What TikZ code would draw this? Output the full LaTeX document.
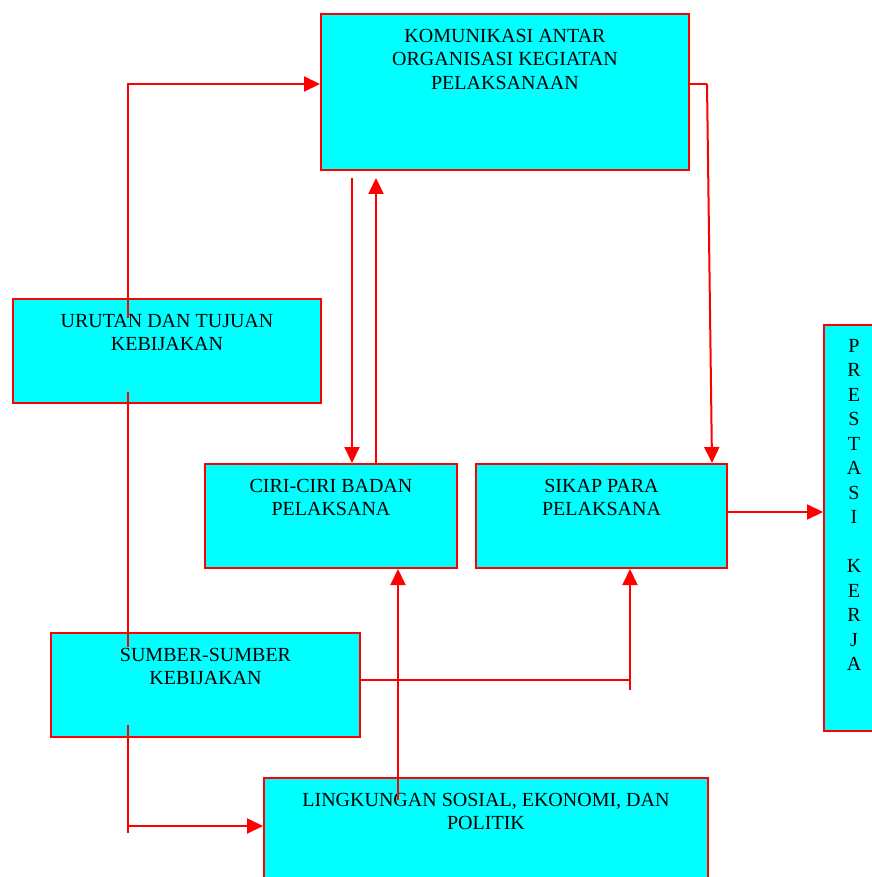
\documentclass[tikz,border=0pt]{standalone}
\usepackage{fontspec}
\setmainfont{Liberation Serif}
\usetikzlibrary{positioning,arrows.meta}

\definecolor{isi}{RGB}{0,255,255}
\definecolor{merah}{RGB}{255,0,0}

\begin{document}
\begin{tikzpicture}[x=1pt, y=-1pt,
	kotak/.style={draw=merah, fill=isi, line width=2pt, anchor=north west, inner sep=0pt},
	teks/.style={inner sep=0pt, align=center, font=\fontsize{20}{23.5}\selectfont},
	garis/.style={merah, line width=2pt},
	panah/.style={garis, -{Triangle[length=16pt,width=15pt]}}]

\useasboundingbox (0,0) rectangle (871,877);

% kotak-kotak
\node[kotak, minimum width=368pt, minimum height=156pt] (komunikasi) at (320,13) {};
\node[kotak, minimum width=308pt, minimum height=104pt] (urutan) at (12,298) {};
\node[kotak, minimum width=252pt, minimum height=104pt] (ciri) at (204,463) {};
\node[kotak, minimum width=251pt, minimum height=104pt] (sikap) at (475,463) {};
\node[kotak, minimum width=60pt, minimum height=406pt] (prestasi) at (823,324) {};
\node[kotak, minimum width=309pt, minimum height=104pt] (sumber) at (50,632) {};
\node[kotak, minimum width=444pt, minimum height=112pt] (lingkungan) at (263,777) {};

\node[teks, below=16pt of komunikasi.north] {KOMUNIKASI ANTAR\\ORGANISASI KEGIATAN\\PELAKSANAAN};
\node[teks, below=16pt of urutan.north] {URUTAN DAN TUJUAN\\KEBIJAKAN};
\node[teks, below=16pt of ciri.north] {CIRI-CIRI BADAN\\PELAKSANA};
\node[teks, below=16pt of sikap.north] {SIKAP PARA\\PELAKSANA};
\node[teks, below=16pt of sumber.north] {SUMBER-SUMBER\\KEBIJAKAN};
\node[teks, below=16pt of lingkungan.north] {LINGKUNGAN SOSIAL, EKONOMI, DAN\\POLITIK};
\node[teks, font=\fontsize{20}{24.5}\selectfont, below=15pt of prestasi.north]
	{P\\R\\E\\S\\T\\A\\S\\I\\[24.5pt]K\\E\\R\\J\\A};

% titik bantu
\coordinate (u1) at (128,318);
\coordinate (u2) at (128,392);
\coordinate (s1) at (128,647);
\coordinate (s2) at (128,725);
\coordinate (s3) at (128,833);
\coordinate (b1) at (707,84);
\coordinate (m1) at (630,690);
\coordinate (l1) at (398,800);

% garis penghubung
\draw[panah] (u1) |- (komunikasi.west |- 0,84);
\draw[garis] (u2) -- (s1);
\draw[garis] (s2) -- (s3);
\draw[panah] (128,826) -- (lingkungan.west |- 0,826);

\draw[panah] (352,178) -- (ciri.north -| 352,0);
\draw[panah] (ciri.north -| 376,0) -- (376,178);

\draw[garis] (komunikasi.east |- 0,84) -- (b1);
\draw[panah] (b1) -- (sikap.north -| 712,0);

\draw[panah] (sikap.east |- 0,512) -- (prestasi.west |- 0,512);

\draw[garis] (sumber.east |- 0,680) -- (630,680);
\draw[panah] (m1) -- (sikap.south -| 630,0);

\draw[panah] (l1) -- (ciri.south -| 398,0);

\end{tikzpicture}
\end{document}
